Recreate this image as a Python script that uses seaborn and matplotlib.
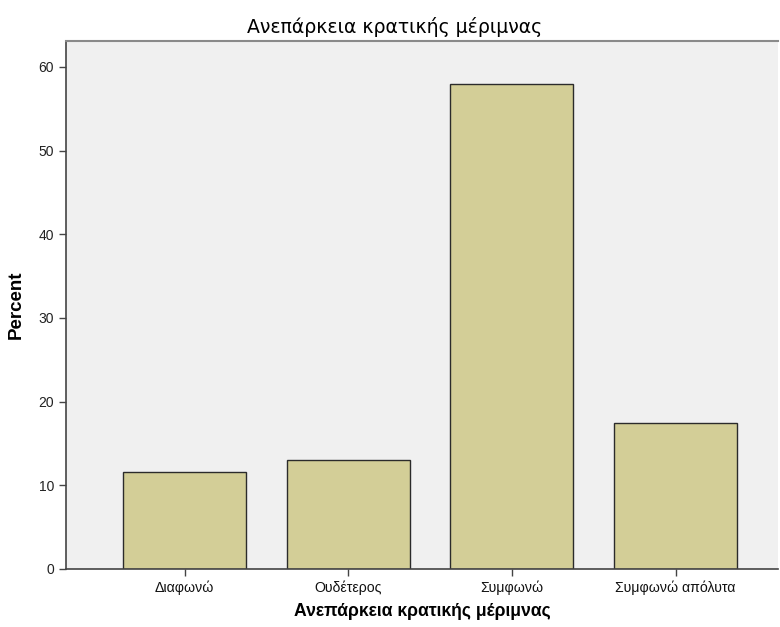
import matplotlib
matplotlib.use("Agg")
import matplotlib.pyplot as plt
import seaborn as sns
import pandas as pd

categories = ["Διαφωνώ", "Ουδέτερος", "Συμφωνώ", "Συμφωνώ απόλυτα"]
percents = [11.6, 13.0, 58.0, 17.4]
yticks = [0, 10, 20, 30, 40, 50, 60]
title = "Ανεπάρκεια κρατικής μέριμνας"

sns.set_style("white")
plt.rcParams['font.family'] = ['Liberation Sans', 'DejaVu Sans']

df = pd.DataFrame({"cat": categories, "pct": percents})

fig = plt.figure(figsize=(7.8, 6.27), dpi=100)
ax = fig.add_axes([66/780, 1-569/627, (778-66)/780, (569-41)/627])
ax.set_facecolor("#F0F0F0")

sns.barplot(data=df, x="cat", y="pct", color="#D3CE97", saturation=1,
            edgecolor="#2b2b2b", linewidth=1.0, width=0.75, ax=ax)

ax.set_xlim(-0.724, 3.626)
ax.set_ylim(0, 63.1)
ax.set_yticks(yticks)
ax.set_yticklabels([str(t) for t in yticks], fontsize=10, color="#222222")
ax.tick_params(axis="x", labelsize=10.2, labelcolor="#111111", pad=3)
ax.tick_params(axis="both", direction="out", length=5, width=1, color="#444444",
               bottom=True, left=True)

for s in ["left", "bottom"]:
    ax.spines[s].set_color("#444444")
    ax.spines[s].set_linewidth(1.2)
ax.spines["top"].set_color("#8a8a8a")
ax.spines["top"].set_linewidth(1.5)
ax.spines["right"].set_visible(False)

ax.set_xlabel(title, fontsize=12.7, fontweight="bold", labelpad=6, color="#000000")
ax.set_ylabel("Percent", fontsize=13.5, fontweight="bold", labelpad=10, color="#000000")
fig.text(395/780, 1-27/627, title, fontsize=13.6, ha="center", va="center",
         color="#000000", family=["DejaVu Sans"])

fig.savefig("out.png", dpi=100)
